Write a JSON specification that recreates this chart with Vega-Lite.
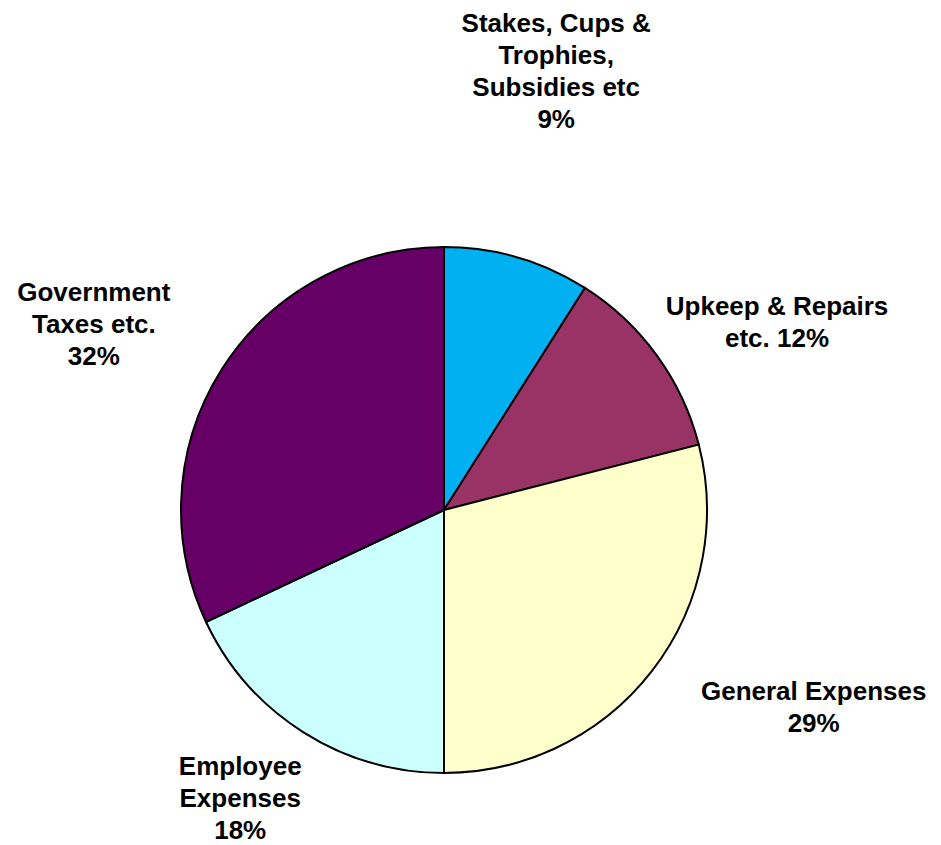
{
  "$schema": "https://vega.github.io/schema/vega-lite/v6.json",
  "width": 888,
  "height": 670,
  "autosize": {"type": "none"},
  "padding": {"left": 0, "top": 175, "right": 53, "bottom": 0},
  "background": "white",
  "config": {"view": {"stroke": null}},
  "data": {
    "values": [
      {"category": "Stakes, Cups & Trophies, Subsidies etc", "label": "Stakes, Cups &\nTrophies,\nSubsidies etc\n9%", "value": 9, "idx": 1},
      {"category": "Upkeep & Repairs etc.", "label": "Upkeep & Repairs\netc. 12%", "value": 12, "idx": 2},
      {"category": "General Expenses", "label": "General Expenses\n29%", "value": 29, "idx": 3},
      {"category": "Employee Expenses", "label": "Employee\nExpenses\n18%", "value": 18, "idx": 4},
      {"category": "Government Taxes etc.", "label": "Government\nTaxes etc.\n32%", "value": 32, "idx": 5}
    ]
  },
  "transform": [
    {"stack": "value", "groupby": [], "sort": [{"field": "idx", "order": "ascending"}], "as": ["v0", "v1"]},
    {"calculate": "(datum.v0 + datum.v1) / 2", "as": "mid"}
  ],
  "layer": [
    {
      "mark": {"type": "arc", "radius": 263, "stroke": "black", "strokeWidth": 2, "strokeJoin": "miter"},
      "encoding": {
        "theta": {"field": "v0", "type": "quantitative", "scale": {"domain": [0, 100]}},
        "theta2": {"field": "v1"},
        "color": {
          "field": "category",
          "type": "nominal",
          "scale": {
            "domain": ["Stakes, Cups & Trophies, Subsidies etc", "Upkeep & Repairs etc.", "General Expenses", "Employee Expenses", "Government Taxes etc."],
            "range": ["#00B0F0", "#993366", "#FFFFCC", "#CCFFFF", "#660066"]
          },
          "legend": null
        }
      }
    },
    {
      "transform": [{"filter": "datum.idx == 1"}],
      "mark": {"type": "text", "radius": 499, "thetaOffset": -0.056, "align": "center", "baseline": "middle", "lineBreak": "\n", "font": "Liberation Sans", "fontWeight": "bold", "fontSize": 26, "lineHeight": 32, "color": "black"},
      "encoding": {
        "theta": {"field": "mid", "type": "quantitative", "scale": {"domain": [0, 100]}},
        "text": {"field": "label"}
      }
    },
    {
      "transform": [{"filter": "datum.idx == 2"}],
      "mark": {"type": "text", "radius": 390, "thetaOffset": 0.081, "align": "center", "baseline": "middle", "lineBreak": "\n", "font": "Liberation Sans", "fontWeight": "bold", "fontSize": 26, "lineHeight": 32, "color": "black"},
      "encoding": {
        "theta": {"field": "mid", "type": "quantitative", "scale": {"domain": [0, 100]}},
        "text": {"field": "label"}
      }
    },
    {
      "transform": [{"filter": "datum.idx == 3"}],
      "mark": {"type": "text", "radius": 412, "thetaOffset": -0.2025, "align": "center", "baseline": "middle", "lineBreak": "\n", "font": "Liberation Sans", "fontWeight": "bold", "fontSize": 26, "lineHeight": 32, "color": "black"},
      "encoding": {
        "theta": {"field": "mid", "type": "quantitative", "scale": {"domain": [0, 100]}},
        "text": {"field": "label"}
      }
    },
    {
      "transform": [{"filter": "datum.idx == 4"}],
      "mark": {"type": "text", "radius": 328, "thetaOffset": 0.105, "align": "center", "baseline": "middle", "lineBreak": "\n", "font": "Liberation Sans", "fontWeight": "bold", "fontSize": 26, "lineHeight": 32, "color": "black"},
      "encoding": {
        "theta": {"field": "mid", "type": "quantitative", "scale": {"domain": [0, 100]}},
        "text": {"field": "label"}
      }
    },
    {
      "transform": [{"filter": "datum.idx == 5"}],
      "mark": {"type": "text", "radius": 412, "thetaOffset": -0.0105, "align": "center", "baseline": "middle", "lineBreak": "\n", "font": "Liberation Sans", "fontWeight": "bold", "fontSize": 26, "lineHeight": 32, "color": "black"},
      "encoding": {
        "theta": {"field": "mid", "type": "quantitative", "scale": {"domain": [0, 100]}},
        "text": {"field": "label"}
      }
    }
  ]
}
